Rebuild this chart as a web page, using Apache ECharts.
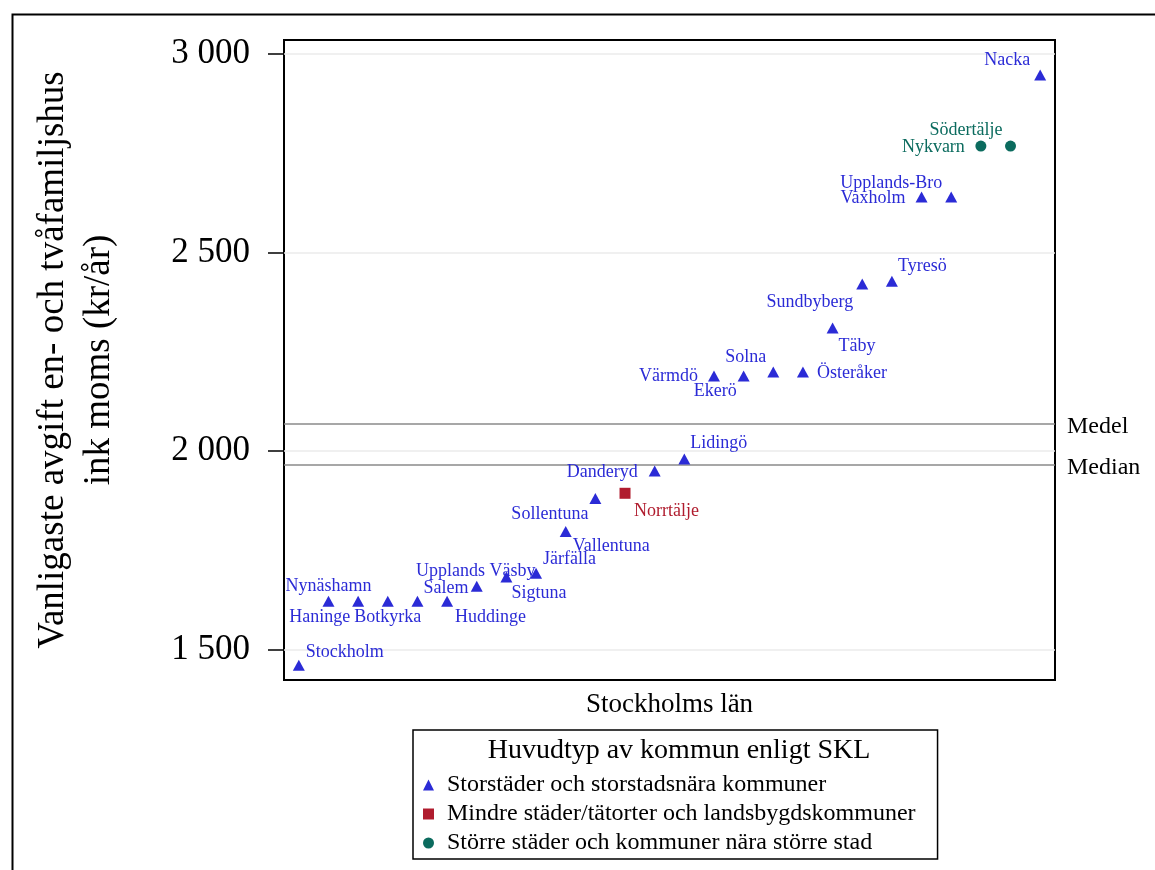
<!DOCTYPE html>
<html>
<head>
<meta charset="utf-8">
<script src="https://cdn.jsdelivr.net/npm/echarts@6/dist/echarts.min.js"></script>
<style>
html,body{margin:0;padding:0;background:#fff;}
#chart{width:1155px;height:870px;}
</style>
</head>
<body>
<div id="chart"></div>
<script>
// ---- Data ----
const municipalities = ['Stockholm','Nynäshamn','Haninge','Botkyrka','Salem','Huddinge','Upplands Väsby','Sigtuna','Järfälla','Vallentuna','Sollentuna','Norrtälje','Danderyd','Lidingö','Värmdö','Ekerö','Solna','Österåker','Täby','Sundbyberg','Tyresö','Vaxholm','Upplands-Bro','Nykvarn','Södertälje','Nacka'];
const fees = [1461,1622,1622,1622,1622,1622,1660,1683,1693,1798,1881,1894,1950,1980,2189,2189,2199,2199,2310,2421,2428,2640,2640,2768,2768,2947];
// 0 = Storstäder..., 1 = Mindre städer..., 2 = Större städer...
const groupIndex = [0,0,0,0,0,0,0,0,0,0,0,1,0,0,0,0,0,0,0,0,0,0,0,2,2,0];
const groupNames = ['Storstäder och storstadsnära kommuner','Mindre städer/tätorter och landsbygdskommuner','Större städer och kommuner nära större stad'];
const yTickValues = [1500,2000,2500,3000];
const medelValue = 2070;
const medianValue = 1967;
const legendTitle = 'Huvudtyp av kommun enligt SKL';
const yTitle = 'Vanligaste avgift en- och tvåfamiljshus\nink moms (kr/år)';
const xTitle = 'Stockholms län';

// ---- Styling ----
const FONT = '"Liberation Serif","Times New Roman",serif';
const groupColors = ['#2b2bd6','#b01c2e','#0b6b5e'];
const groupSymbols = ['triangle','rect','circle'];
const groupSymbolSizes = [[12,11],[11,11],[11,11]];
// label placement: [align, dx, dy] relative to marker centre
const labelPlace = {
  'Stockholm':['l',7,-13],'Nynäshamn':['c',0,-15],'Haninge':['r',-8,16],'Botkyrka':['c',0,16],
  'Salem':['l',6,-13],'Huddinge':['l',8,16],'Upplands Väsby':['c',-1,-15],'Sigtuna':['l',5,16],
  'Järfälla':['l',7,-14],'Vallentuna':['l',7,15],'Sollentuna':['r',-7,16],'Norrtälje':['l',9,18],
  'Danderyd':['r',-17,1],'Lidingö':['l',6,-16],'Värmdö':['r',-16,0],'Ekerö':['r',-7,15],
  'Solna':['r',-7,-15],'Österåker':['l',14,1],'Täby':['l',6,18],'Sundbyberg':['r',-9,18],
  'Tyresö':['l',6,-15],'Vaxholm':['r',-16,1],'Upplands-Bro':['r',-9,-14],'Nykvarn':['r',-16,1],
  'Södertälje':['r',-8,-16],'Nacka':['r',-10,-15]
};
const alignMap = {l:'left', r:'right', c:'center'};

function fmt(v){ return String(v).replace(/\B(?=(\d{3})+(?!\d))/g,' '); }

const series = groupNames.map((gName, g) => {
  const data = [];
  municipalities.forEach((m, i) => {
    if (groupIndex[i] !== g) return;
    const p = labelPlace[m];
    data.push({
      name: m,
      value: [i + 1, fees[i]],
      label: {
        show: true, position: 'inside', align: alignMap[p[0]], verticalAlign: 'middle',
        offset: [p[1], p[2]], formatter: m, color: groupColors[g],
        fontFamily: FONT, fontSize: 18
      }
    });
  });
  return {
    name: gName, type: 'scatter', symbol: groupSymbols[g], symbolSize: groupSymbolSizes[g],
    itemStyle: { color: groupColors[g], opacity: 1 },
    emphasis: { disabled: true },
    data: data, z: 5
  };
});

// reference lines: gridlines + Medel/Median
const refLabel = (txt) => ({ show: true, position: 'end', distance: 12, offset: [0, 3], formatter: txt, color: '#000',
  fontFamily: FONT, fontSize: 24 });
series.push({
  name: 'refs', type: 'line', data: [], z: 1, silent: true,
  markLine: {
    silent: true, symbol: 'none', animation: false,
    data: yTickValues.map(v => ({ yAxis: v, lineStyle: { color: '#ebebeb', width: 1.5, type: 'solid' }, label: { show: false } }))
      .concat([
        { yAxis: medelValue, lineStyle: { color: '#8a8a8a', width: 1.5, type: 'solid' }, label: refLabel('Medel') },
        { yAxis: medianValue, lineStyle: { color: '#8a8a8a', width: 1.5, type: 'solid' }, label: refLabel('Median') }
      ])
  }
});

const chart = echarts.init(document.getElementById('chart'), null, { renderer: 'canvas' });
chart.setOption({
  animation: false,
  backgroundColor: '#fff',
  grid: { left: 284, right: 100, top: 40, bottom: 190, show: true, borderColor: '#000', borderWidth: 2, backgroundColor: '#fff' },
  xAxis: {
    type: 'value', min: 0.5, max: 26.5,
    axisLine: { show: true, lineStyle: { color: '#000', width: 2 } },
    axisTick: { show: false }, axisLabel: { show: false }, splitLine: { show: false },
    name: xTitle, nameLocation: 'middle', nameGap: 11,
    nameTextStyle: { fontFamily: FONT, fontSize: 27, color: '#000', verticalAlign: 'top' }
  },
  yAxis: {
    type: 'value', min: 1424, max: 3035,
    axisLine: { show: true, lineStyle: { color: '#000', width: 2 } },
    axisTick: { show: true, inside: false, length: 16, customValues: yTickValues, lineStyle: { color: '#000', width: 1.5 } },
    axisLabel: { show: true, customValues: yTickValues, margin: 34, formatter: fmt, fontFamily: FONT, fontSize: 35, color: '#000' },
    splitLine: { show: false },
    name: yTitle, nameLocation: 'middle', nameGap: 162, nameRotate: 90,
    nameTextStyle: { fontFamily: FONT, fontSize: 37, lineHeight: 46, color: '#000', align: 'center' }
  },
  legend: {
    show: true, orient: 'vertical', left: 413, top: 730,
    data: groupNames.map((n, g) => ({ name: n, icon: groupSymbols[g] })),
    padding: [43, 22, 4, 10], itemGap: 5, itemWidth: 11, itemHeight: 11,
    borderColor: '#000', borderWidth: 1.5, backgroundColor: '#fff',
    textStyle: { fontFamily: FONT, fontSize: 24, color: '#000', lineHeight: 24, padding: [0, 0, 0, 8] },
    selectedMode: false
  },
  graphic: [
    { type: 'rect', left: 10, top: 12, shape: { width: 1200, height: 900 }, style: { fill: null, stroke: '#000', lineWidth: 2 }, silent: true, z: -10 },
    { type: 'text', x: 679, y: 751, style: { text: legendTitle, fontFamily: FONT, fontSize: 28, fill: '#000', textAlign: 'center', textVerticalAlign: 'middle' }, z: 100 }
  ],
  series: series
});
</script>
</body>
</html>
